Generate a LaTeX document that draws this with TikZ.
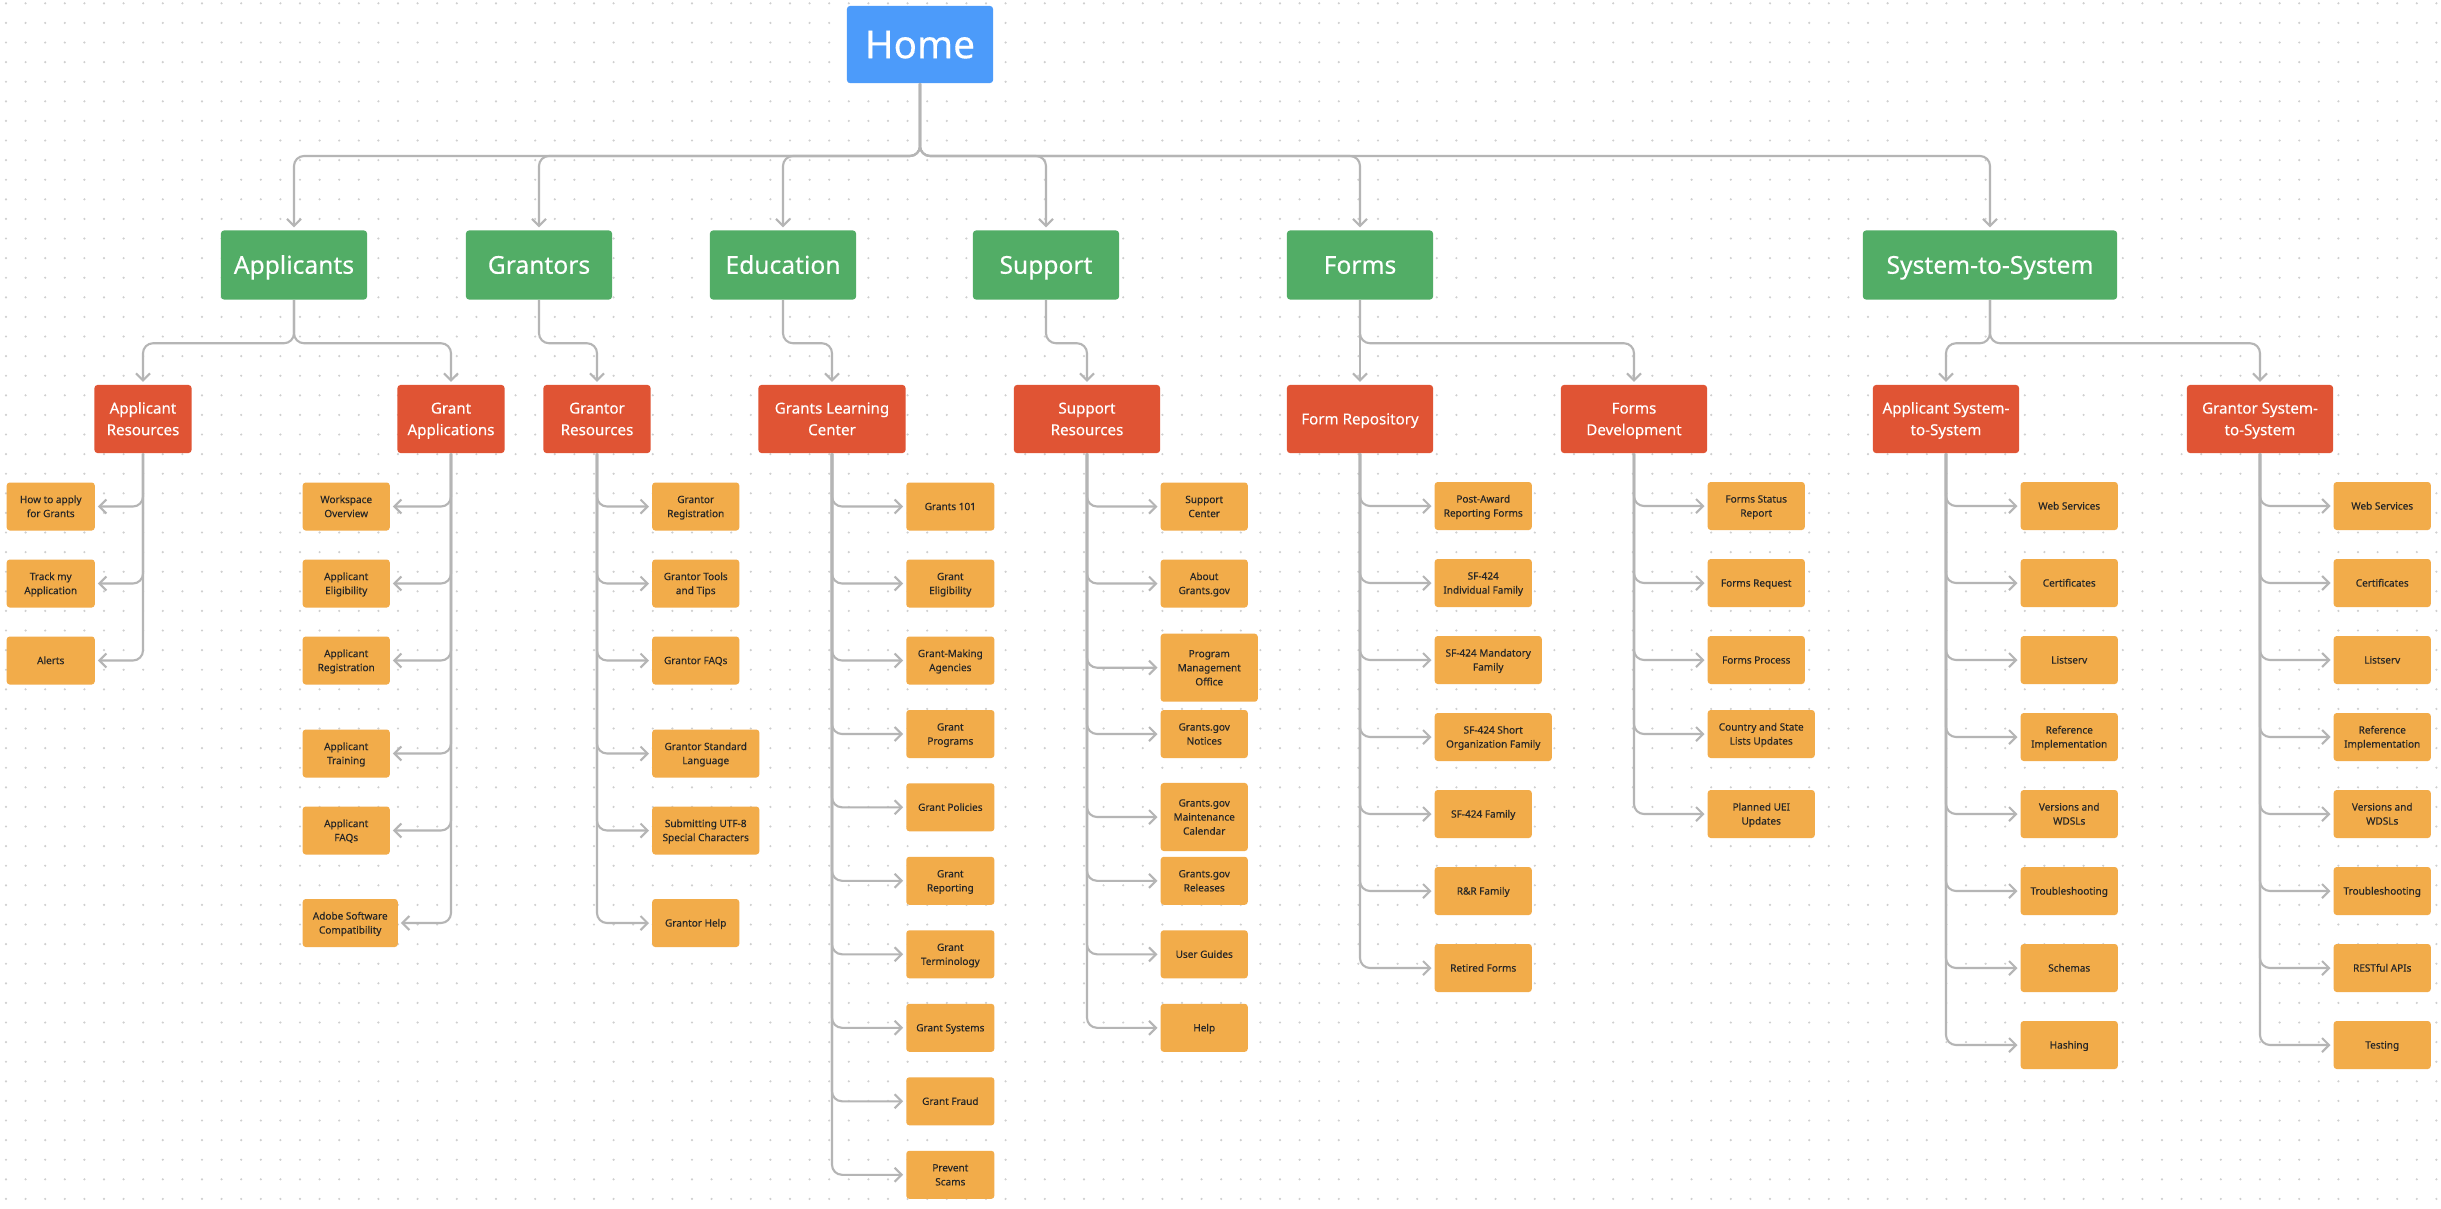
\documentclass[tikz,border=0pt]{standalone}
\usepackage{fontspec}
\setmainfont{Noto Sans}[FakeBold=0.25]
\usetikzlibrary{arrows.meta}
\definecolor{homec}{HTML}{4C9BFA}
\definecolor{greenc}{HTML}{52AD66}
\definecolor{redc}{HTML}{E05434}
\definecolor{orangec}{HTML}{F2AC4A}
\definecolor{textc}{HTML}{262626}
\definecolor{linec}{HTML}{B5B5B5}
\definecolor{dotc}{HTML}{CFCFCF}
\begin{document}
\begin{tikzpicture}[x=0.01cm,y=-0.01cm,
  nlines/.store in=\nlns, nlines=1,
  conn/.style={draw=linec, line width=0.6pt, rounded corners=1mm, -{Straight Barb[length=0.7mm,width=1.4mm]}, shorten >=0.25mm},
  boxbase/.style={rounded corners=0.3mm, inner sep=0, align=center,
    execute at end node={\rule[-0.25em]{0pt}{0pt}}},
  homebox/.style={boxbase, fill=homec, text=white, minimum width=14.6mm, minimum height=7.7mm, font=\fontsize{11}{13}\selectfont,
    execute at begin node={\rule{0pt}{0.96em}}},
  lone/.style={boxbase, fill=greenc, text=white, minimum width=14.6mm, minimum height=6.9mm, font=\fontsize{7}{8.5}\selectfont,
    execute at begin node={\rule{0pt}{0.96em}}},
  ltwo/.style={boxbase, nlines=2, fill=redc, text=white, minimum height=6.8mm, font=\fontsize{4.3}{6.15}\selectfont,
    execute at begin node={\rule{0pt}{\dimexpr 6.15pt*(\nlns-1)+0.96em\relax}}},
  lthree/.style={boxbase, nlines=2, fill=orangec, text=textc, minimum height=4.8mm, font=\fontsize{2.85}{4.0}\selectfont, anchor=west,
    execute at begin node={\rule{0pt}{\dimexpr 4.0pt*(\nlns-1)+0.96em\relax}}},
  one/.style={nlines=1}, three/.style={nlines=3},
]
\useasboundingbox (0,0) rectangle (2441,1208);
\fill[white] (0,0) rectangle (2441,1208);
\foreach \j in {0,...,61}{
  \fill[dotc] \foreach \i in {0,...,124}{ (6+19.6*\i,3.3+19.6*\j) circle[radius=0.12mm] };
}

% level 0
\node[homebox] (home) at (920,44.5) {Home};
% level 1
\node[lone] (app) at (294,265) {Applicants};
\node[lone] (gtr) at (539,265) {Grantors};
\node[lone] (edu) at (783,265) {Education};
\node[lone] (sup) at (1046,265) {Support};
\node[lone] (frm) at (1360,265) {Forms};
\node[lone, minimum width=25.4mm] (sts) at (1990,265) {System-to-System};
% level 2
\node[ltwo, minimum width=9.7mm] (ar) at (143,419) {Applicant\\Resources};
\node[ltwo, minimum width=10.7mm] (ga) at (451,419) {Grant\\Applications};
\node[ltwo, minimum width=10.7mm] (gr) at (597,419) {Grantor\\Resources};
\node[ltwo, minimum width=14.7mm] (glc) at (832,419) {Grants Learning\\Center};
\node[ltwo, minimum width=14.6mm] (sr) at (1087,419) {Support\\Resources};
\node[ltwo, one, minimum width=14.6mm] (fr) at (1360,419) {Form Repository};
\node[ltwo, minimum width=14.6mm] (fd) at (1634,419) {Forms\\Development};
\node[ltwo, minimum width=14.6mm] (as) at (1946,419) {Applicant System-\\to-System};
\node[ltwo, minimum width=14.6mm] (gs) at (2260,419) {Grantor System-\\to-System};

% level 3: Applicant Resources
\node[lthree, minimum width=8.8mm] (ar1) at (6,506.5) {How to apply\\for Grants};
\node[lthree, minimum width=8.8mm] (ar2) at (6,583.5) {Track my\\Application};
\node[lthree, one, minimum width=8.8mm] (ar3) at (6,660.5) {Alerts};
% Grant Applications
\node[lthree, minimum width=8.7mm] (ga1) at (302,506.5) {Workspace\\Overview};
\node[lthree, minimum width=8.7mm] (ga2) at (302,583.5) {Applicant\\Eligibility};
\node[lthree, minimum width=8.7mm] (ga3) at (302,660.5) {Applicant\\Registration};
\node[lthree, minimum width=8.7mm] (ga4) at (302,753.5) {Applicant\\Training};
\node[lthree, minimum width=8.7mm] (ga5) at (302,830.5) {Applicant\\FAQs};
\node[lthree, minimum width=9.5mm] (ga6) at (302,923) {Adobe Software\\Compatibility};
% Grantor Resources
\node[lthree, minimum width=8.7mm] (gr1) at (651.5,506.5) {Grantor\\Registration};
\node[lthree, minimum width=8.7mm] (gr2) at (651.5,583.5) {Grantor Tools\\and Tips};
\node[lthree, one, minimum width=8.7mm] (gr3) at (651.5,660.5) {Grantor FAQs};
\node[lthree, minimum width=10.7mm] (gr4) at (651.5,753.5) {Grantor Standard\\Language};
\node[lthree, minimum width=10.7mm] (gr5) at (651.5,830.5) {Submitting UTF-8\\Special Characters};
\node[lthree, one, minimum width=8.7mm] (gr6) at (651.5,923) {Grantor Help};
% Grants Learning Center
\node[lthree, one, minimum width=8.8mm] (glc1) at (905.6,506.5) {Grants 101};
\node[lthree, minimum width=8.8mm] (glc2) at (905.6,583.5) {Grant\\Eligibility};
\node[lthree, minimum width=8.8mm] (glc3) at (905.6,660.5) {Grant-Making\\Agencies};
\node[lthree, minimum width=8.8mm] (glc4) at (905.6,734) {Grant\\Programs};
\node[lthree, one, minimum width=8.8mm] (glc5) at (905.6,807.3) {Grant Policies};
\node[lthree, minimum width=8.8mm] (glc6) at (905.6,880.8) {Grant\\Reporting};
\node[lthree, minimum width=8.8mm] (glc7) at (905.6,954.3) {Grant\\Terminology};
\node[lthree, one, minimum width=8.8mm] (glc8) at (905.6,1027.8) {Grant Systems};
\node[lthree, one, minimum width=8.8mm] (glc9) at (905.6,1101.3) {Grant Fraud};
\node[lthree, minimum width=8.8mm] (glc10) at (905.6,1174.8) {Prevent\\Scams};
% Support Resources
\node[lthree, minimum width=8.7mm] (sr1) at (1160,506.5) {Support\\Center};
\node[lthree, minimum width=8.7mm] (sr2) at (1160,583.5) {About\\Grants.gov};
\node[lthree, three, minimum width=9.7mm, minimum height=6.8mm] (sr3) at (1160,667.7) {Program\\Management\\Office};
\node[lthree, minimum width=8.7mm] (sr4) at (1160,734) {Grants.gov\\Notices};
\node[lthree, three, minimum width=8.7mm, minimum height=6.8mm] (sr5) at (1160,817) {Grants.gov\\Maintenance\\Calendar};
\node[lthree, minimum width=8.7mm] (sr6) at (1160,880.8) {Grants.gov\\Releases};
\node[lthree, one, minimum width=8.7mm] (sr7) at (1160,954.3) {User Guides};
\node[lthree, one, minimum width=8.7mm] (sr8) at (1160,1027.8) {Help};
% Form Repository
\node[lthree, minimum width=9.7mm] (fr1) at (1434,506) {Post-Award\\Reporting Forms};
\node[lthree, minimum width=9.7mm] (fr2) at (1434,583) {SF-424\\Individual Family};
\node[lthree, minimum width=10.7mm] (fr3) at (1434,660) {SF-424 Mandatory\\Family};
\node[lthree, minimum width=11.7mm] (fr4) at (1434,737) {SF-424 Short\\Organization Family};
\node[lthree, one, minimum width=9.7mm] (fr5) at (1434,814) {SF-424 Family};
\node[lthree, one, minimum width=9.7mm] (fr6) at (1434,891) {R\&R Family};
\node[lthree, one, minimum width=9.7mm] (fr7) at (1434,968) {Retired Forms};
% Forms Development
\node[lthree, minimum width=9.7mm] (fd1) at (1707,506) {Forms Status\\Report};
\node[lthree, one, minimum width=9.7mm] (fd2) at (1707,583) {Forms Request};
\node[lthree, one, minimum width=9.7mm] (fd3) at (1707,660) {Forms Process};
\node[lthree, minimum width=10.7mm] (fd4) at (1707,734) {Country and State\\Lists Updates};
\node[lthree, minimum width=10.7mm] (fd5) at (1707,814) {Planned UEI\\Updates};
% Applicant S2S
\node[lthree, one, minimum width=9.7mm] (as1) at (2020,506) {Web Services};
\node[lthree, one, minimum width=9.7mm] (as2) at (2020,583) {Certificates};
\node[lthree, one, minimum width=9.7mm] (as3) at (2020,660) {Listserv};
\node[lthree, minimum width=9.7mm] (as4) at (2020,737) {Reference\\Implementation};
\node[lthree, minimum width=9.7mm] (as5) at (2020,814) {Versions and\\WDSLs};
\node[lthree, one, minimum width=9.7mm] (as6) at (2020,891) {Troubleshooting};
\node[lthree, one, minimum width=9.7mm] (as7) at (2020,968) {Schemas};
\node[lthree, one, minimum width=9.7mm] (as8) at (2020,1045) {Hashing};
% Grantor S2S
\node[lthree, one, minimum width=9.7mm] (gs1) at (2333,506) {Web Services};
\node[lthree, one, minimum width=9.7mm] (gs2) at (2333,583) {Certificates};
\node[lthree, one, minimum width=9.7mm] (gs3) at (2333,660) {Listserv};
\node[lthree, minimum width=9.7mm] (gs4) at (2333,737) {Reference\\Implementation};
\node[lthree, minimum width=9.7mm] (gs5) at (2333,814) {Versions and\\WDSLs};
\node[lthree, one, minimum width=9.7mm] (gs6) at (2333,891) {Troubleshooting};
\node[lthree, one, minimum width=9.7mm] (gs7) at (2333,968) {RESTful APIs};
\node[lthree, one, minimum width=9.7mm] (gs8) at (2333,1045) {Testing};

% connectors level 0 -> 1
\coordinate (hb) at (920,156);
\foreach \c in {app,gtr,edu,sup,frm,sts} \draw[conn] (home.south) -- (hb) -| (\c.north);
% level 1 -> 2
\draw[conn] (app.south) -- ++(0,43) -| (ar.north);
\draw[conn] (app.south) -- ++(0,43) -| (ga.north);
\draw[conn] (gtr.south) -- ++(0,43) -| (gr.north);
\draw[conn] (edu.south) -- ++(0,43) -| (glc.north);
\draw[conn] (sup.south) -- ++(0,43) -| (sr.north);
\draw[conn] (frm.south) -- (fr.north);
\draw[conn] (frm.south) -- ++(0,43) -| (fd.north);
\draw[conn] (sts.south) -- ++(0,43) -| (as.north);
\draw[conn] (sts.south) -- ++(0,43) -| (gs.north);
% level 2 -> 3
\foreach \k in {1,2,3} \draw[conn] (ar.south) |- (ar\k.east);
\foreach \k in {1,...,6} \draw[conn] (ga.south) |- (ga\k.east);
\foreach \k in {1,...,6} \draw[conn] (gr.south) |- (gr\k.west);
\foreach \k in {1,...,10} \draw[conn] (glc.south) |- (glc\k.west);
\foreach \k in {1,...,8} \draw[conn] (sr.south) |- (sr\k.west);
\foreach \k in {1,...,7} \draw[conn] (fr.south) |- (fr\k.west);
\foreach \k in {1,...,5} \draw[conn] (fd.south) |- (fd\k.west);
\foreach \k in {1,...,8} \draw[conn] (as.south) |- (as\k.west);
\foreach \k in {1,...,8} \draw[conn] (gs.south) |- (gs\k.west);
\end{tikzpicture}
\end{document}
